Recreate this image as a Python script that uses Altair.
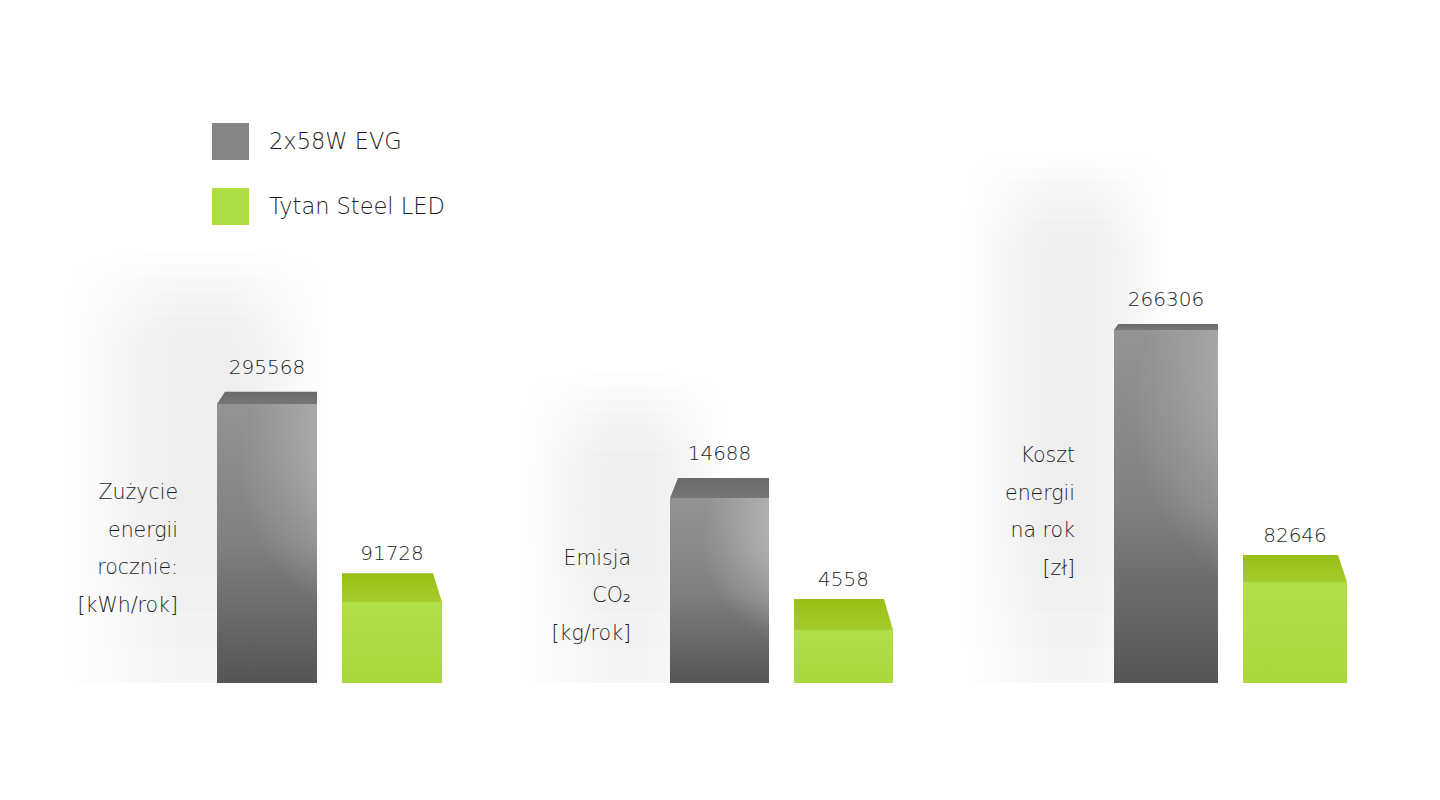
import altair as alt
import pandas as pd

# ---------------- data ----------------
series = ["2x58W EVG", "Tytan Steel LED"]
metric_lines = [
    ["Zużycie", "energii", "rocznie:", "[kWh/rok]"],
    ["Emisja", "CO₂", "[kg/rok]"],
    ["Koszt", "energii", "na rok", "[zł]"],
]
evg_values = [295568, 14688, 266306]
led_values = [91728, 4558, 82646]

# ---------------- layout / style ----------------
FONT = "DejaVu Sans"
FONT_WEIGHT = 300
TEXT_COLOR = "#1e1e1e"
H = 675                      # plot height of each panel
ORIGIN_Y = 8                 # page y of plot top
BASE_Y = ORIGIN_Y + H        # page y of bar bases
PANEL_W = [453, 444, 449]
BAR_STEP = [125, 124, 129]
BAR_GAP = 25
BAR_OFFSET = 209             # left padding before first bar in each panel
Y_DOMAINS = [[8300, 703300], [490, 52290], [9000, 501000]]
HORIZON_Y = 258              # perspective: visible top-face depth grows below this line
DEPTH_RATE = 0.0833
LABEL_GAP = {series[0]: 18, series[1]: 13}
# soft haze behind the grey bar: (dx from bar centre, width, rise above bar top)
SHADOWS = [(-70, 270, 140), (-95, 210, 105), (-100, 210, 170)]
SHADOW_TONES = ["#fdfdfd", "#fafafa", "#f7f7f7", "#f5f5f5",
                "#f3f3f3", "#f1f1f1", "#efefef", "#eeeeee"]
SHADOW_STEP_PX = 13
SHADOW_LIFT_PX = 35          # darker haze layers stop this much higher per step

LEGEND_COLORS = ["#858585", "#aedd45"]


def grad(kind, stops, **kw):
    return alt.Gradient(gradient=kind,
                        stops=[alt.GradientStop(color=c, offset=o) for o, c in stops],
                        **kw)


gray_base = grad("linear", [(0, "#939393"), (0.5, "#808080"), (1, "#555555")],
                 x1=0.5, y1=0, x2=0.5, y2=1)
gray_light = grad("radial", [(0, "rgba(255,255,255,0.48)"), (0.55, "rgba(255,255,255,0.24)"),
                             (1, "rgba(255,255,255,0)")],
                  x1=1, y1=0.22, r1=0, x2=1, y2=0.22, r2=0.6)
green_front = grad("linear", [(0, "#b2df48"), (1, "#a9d73d")], x1=0.5, y1=0, x2=0.5, y2=1)
gray_top = grad("linear", [(0, "#6a6a6a"), (1, "#767676")], x1=0.5, y1=0, x2=0.5, y2=1)
green_top = grad("linear", [(0, "#97bf14"), (1, "#a6cc2c")], x1=0.5, y1=0, x2=0.5, y2=1)


def haze(tone):
    return grad("linear", [(0, "#ffffff"), (0.42, tone), (0.62, tone), (1, "#ffffff")],
                x1=0, y1=0.5, x2=1, y2=0.5)


def face_path(name, depth, half):
    d = depth / half
    if name == series[0]:
        s = min(8.0, 0.7 * depth) / half
        return f"M -1 0 L 1 0 L 1 {-d:.4f} L {-1 + s:.4f} {-d:.4f} Z"
    s = 9.0 / half
    return f"M -1 0 L 1 0 L {1 - s:.4f} {-d:.4f} L -1 {-d:.4f} Z"


def panel(i):
    d0, d1 = Y_DOMAINS[i]
    k = H / (d1 - d0)
    W = PANEL_W[i]
    step = BAR_STEP[i]
    bw = step - BAR_GAP
    half = bw / 2.0
    sdx, sw, srise = SHADOWS[i]
    n_tones = len(SHADOW_TONES)
    rows = []
    for name, v in zip(series, [evg_values[i], led_values[i]]):
        front_y = BASE_Y - (v - d0) * k
        depth = DEPTH_RATE * (front_y - HORIZON_Y)
        row = {
            "series": name,
            "value": v,
            "base": d0,
            "path": face_path(name, depth, half),
            "label_pos": v + (depth + LABEL_GAP[name]) / k,
        }
        for j in range(n_tones):
            row[f"sh{j}"] = v + (depth + srise - j * SHADOW_STEP_PX) / k
            lift = max(0, j - (n_tones - 5)) * SHADOW_LIFT_PX
            row[f"sb{j}"] = d0 + lift / k
        rows.append(row)
    df = pd.DataFrame(rows)
    lines = metric_lines[i]
    cat = pd.DataFrame([{"lines": lines, "ly": (evg_values[i] + d0) / 2}])

    used = step * (2 - BAR_GAP / step)
    extra = W - used
    xscale = alt.Scale(domain=series, paddingInner=BAR_GAP / step,
                       paddingOuter=extra / (2 * step), align=BAR_OFFSET / extra)
    yscale = alt.Scale(domain=[d0, d1], zero=False, nice=False)
    Y = lambda f: alt.Y(f, scale=yscale, axis=None)

    base = alt.Chart(df).encode(x=alt.X("series:N", scale=xscale, axis=None))
    gray = base.transform_filter(alt.datum.series == series[0])
    green = base.transform_filter(alt.datum.series == series[1])

    shadows = [
        gray.mark_bar(color=haze(tone), width=sw, xOffset=sdx, strokeWidth=0).encode(
            y=Y(f"sh{j}:Q"), y2=f"sb{j}:Q")
        for j, tone in enumerate(SHADOW_TONES)
    ]
    gray_bar = gray.mark_bar(color=gray_base, strokeWidth=0).encode(y=Y("value:Q"), y2="base:Q")
    gray_hi = gray.mark_bar(color=gray_light, strokeWidth=0).encode(y=Y("value:Q"), y2="base:Q")
    green_bar = green.mark_bar(color=green_front, strokeWidth=0).encode(y=Y("value:Q"), y2="base:Q")
    gray_face = gray.mark_point(filled=True, opacity=1, size=bw * bw, strokeWidth=0,
                                fill=gray_top).encode(
        y=Y("value:Q"), shape=alt.Shape("path:N", scale=None))
    green_face = green.mark_point(filled=True, opacity=1, size=bw * bw, strokeWidth=0,
                                  fill=green_top).encode(
        y=Y("value:Q"), shape=alt.Shape("path:N", scale=None))
    values = base.mark_text(font=FONT, fontSize=20, fontWeight=FONT_WEIGHT, color=TEXT_COLOR,
                            baseline="alphabetic", align="center").encode(
        y=Y("label_pos:Q"), text=alt.Text("value:Q", format="d"))
    cat_text = alt.Chart(cat).mark_text(
        font=FONT, fontSize=20.5, fontWeight=FONT_WEIGHT, color=TEXT_COLOR, align="right",
        baseline="middle", lineHeight=37.5, dy=6 - (len(lines) - 1) * 37.5 / 2,
    ).encode(x=alt.value(BAR_OFFSET - 39), y=Y("ly:Q"), text="lines")

    layers = shadows + [gray_bar, gray_hi, green_bar, gray_face, green_face, values, cat_text]
    if i == 0:
        legend_layer = base.mark_square(opacity=0).encode(
            y=Y("value:Q"),
            color=alt.Color(
                "series:N",
                scale=alt.Scale(domain=series, range=LEGEND_COLORS),
                legend=alt.Legend(
                    orient="none", legendX=204, legendY=115, title=None,
                    symbolType="square", symbolSize=1369, symbolStrokeWidth=0,
                    symbolOpacity=1, labelFontSize=22.5, labelFont=FONT,
                    labelFontWeight=FONT_WEIGHT, labelColor=TEXT_COLOR,
                    rowPadding=28, labelOffset=20, padding=0, direction="vertical",
                    labelLimit=400,
                ),
            ),
        )
        layers.append(legend_layer)
    return alt.layer(*layers).properties(width=W, height=H)


chart = alt.hconcat(panel(0), panel(1), panel(2), spacing=0).properties(
    padding=0, background="white"
).configure_view(strokeWidth=0)

chart.save("out.html", embed_options={"renderer": "svg", "actions": False})
